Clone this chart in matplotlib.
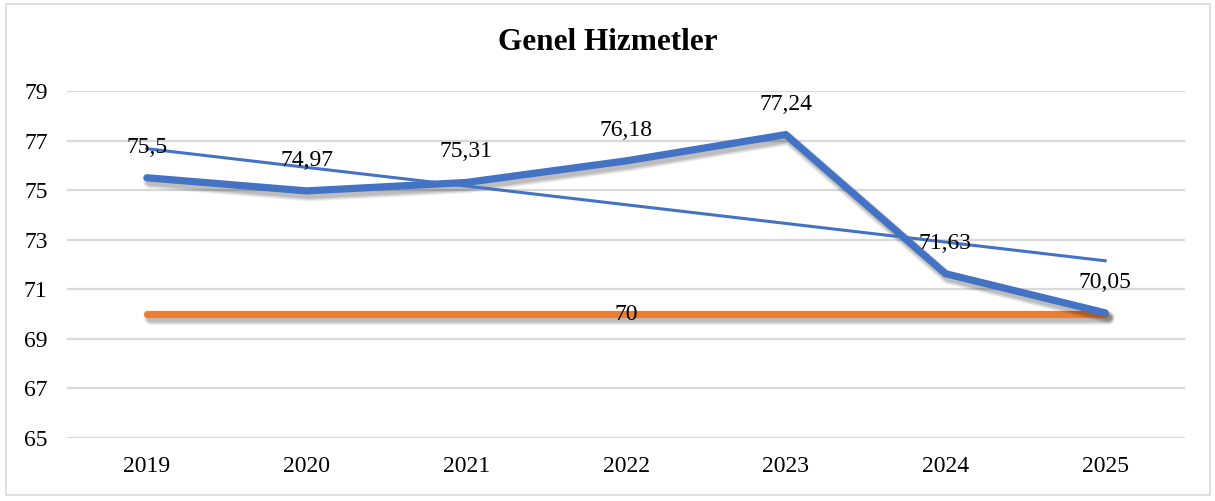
import numpy as np
import matplotlib
matplotlib.use("Agg")
import matplotlib.pyplot as plt
import matplotlib.patheffects as pe
from matplotlib.patches import Rectangle

years = ["2019", "2020", "2021", "2022", "2023", "2024", "2025"]
scores = [75.5, 74.97, 75.31, 76.18, 77.24, 71.63, 70.05]
target = [70, 70, 70, 70, 70, 70, 70]
target_label_idx = 3

BLUE = "#4472C4"
ORANGE = "#ED7D31"

plt.rcParams["font.family"] = ["Liberation Serif", "DejaVu Serif"]

fig = plt.figure(figsize=(12.15, 5.01), dpi=100)
ax = fig.add_axes([67 / 1215, 1 - 438 / 501, (1185 - 67) / 1215, (438 - 91) / 501])

x = np.arange(len(years))

# soft drop shadow: a few widening, faint copies under the line
def soft_shadow(lw):
    fx = [pe.SimpleLineShadow(offset=(2, -3), shadow_color="black", alpha=0.07,
                              linewidth=lw + w) for w in (4, 2.5, 1, 0)]
    return fx + [pe.Normal()]

# series
ax.plot(x, target, color=ORANGE, lw=5.2, solid_capstyle="round",
        path_effects=soft_shadow(5.2), zorder=3)
ax.plot(x, scores, color=BLUE, lw=5.2, solid_capstyle="round", solid_joinstyle="miter",
        path_effects=soft_shadow(5.2), zorder=4)

# linear trend of the scores
k, b = np.polyfit(x, scores, 1)
ax.plot(x, k * x + b, color=BLUE, lw=2.2, zorder=5)

def fmt(v):
    return f"{v:g}".replace(".", ",")

for xi, v in zip(x, scores):
    ax.annotate(fmt(v), (xi, v), xytext=(0, 22), textcoords="offset points",
                ha="center", va="center", fontsize=17, zorder=6)
ax.text(x[target_label_idx], target[target_label_idx], fmt(target[target_label_idx]),
        ha="center", va="center", fontsize=17, zorder=6)

ax.set_xlim(-0.5, len(years) - 0.5)
ax.set_ylim(65, 79)
ax.set_yticks(np.arange(65, 80, 2))
ax.set_xticks(x)
ax.set_xticklabels(years)
ax.tick_params(axis="both", length=0, labelsize=17)
ax.tick_params(axis="y", pad=14)
ax.tick_params(axis="x", pad=13)
ax.grid(axis="y", color="#D9D9D9", lw=1.6)
ax.set_axisbelow(True)
for s in ax.spines.values():
    s.set_visible(False)

fig.text(0.5, 1 - 42 / 501, "Genel Hizmetler", ha="center", va="center",
         fontsize=22.5, fontweight="bold")

fig.patches.append(Rectangle((6 / 1215, 1 - 495 / 501), 1204 / 1215, 491 / 501,
                             transform=fig.transFigure, fill=False,
                             edgecolor="#D9D9D9", lw=1.2))

fig.savefig("out.png", dpi=100)
